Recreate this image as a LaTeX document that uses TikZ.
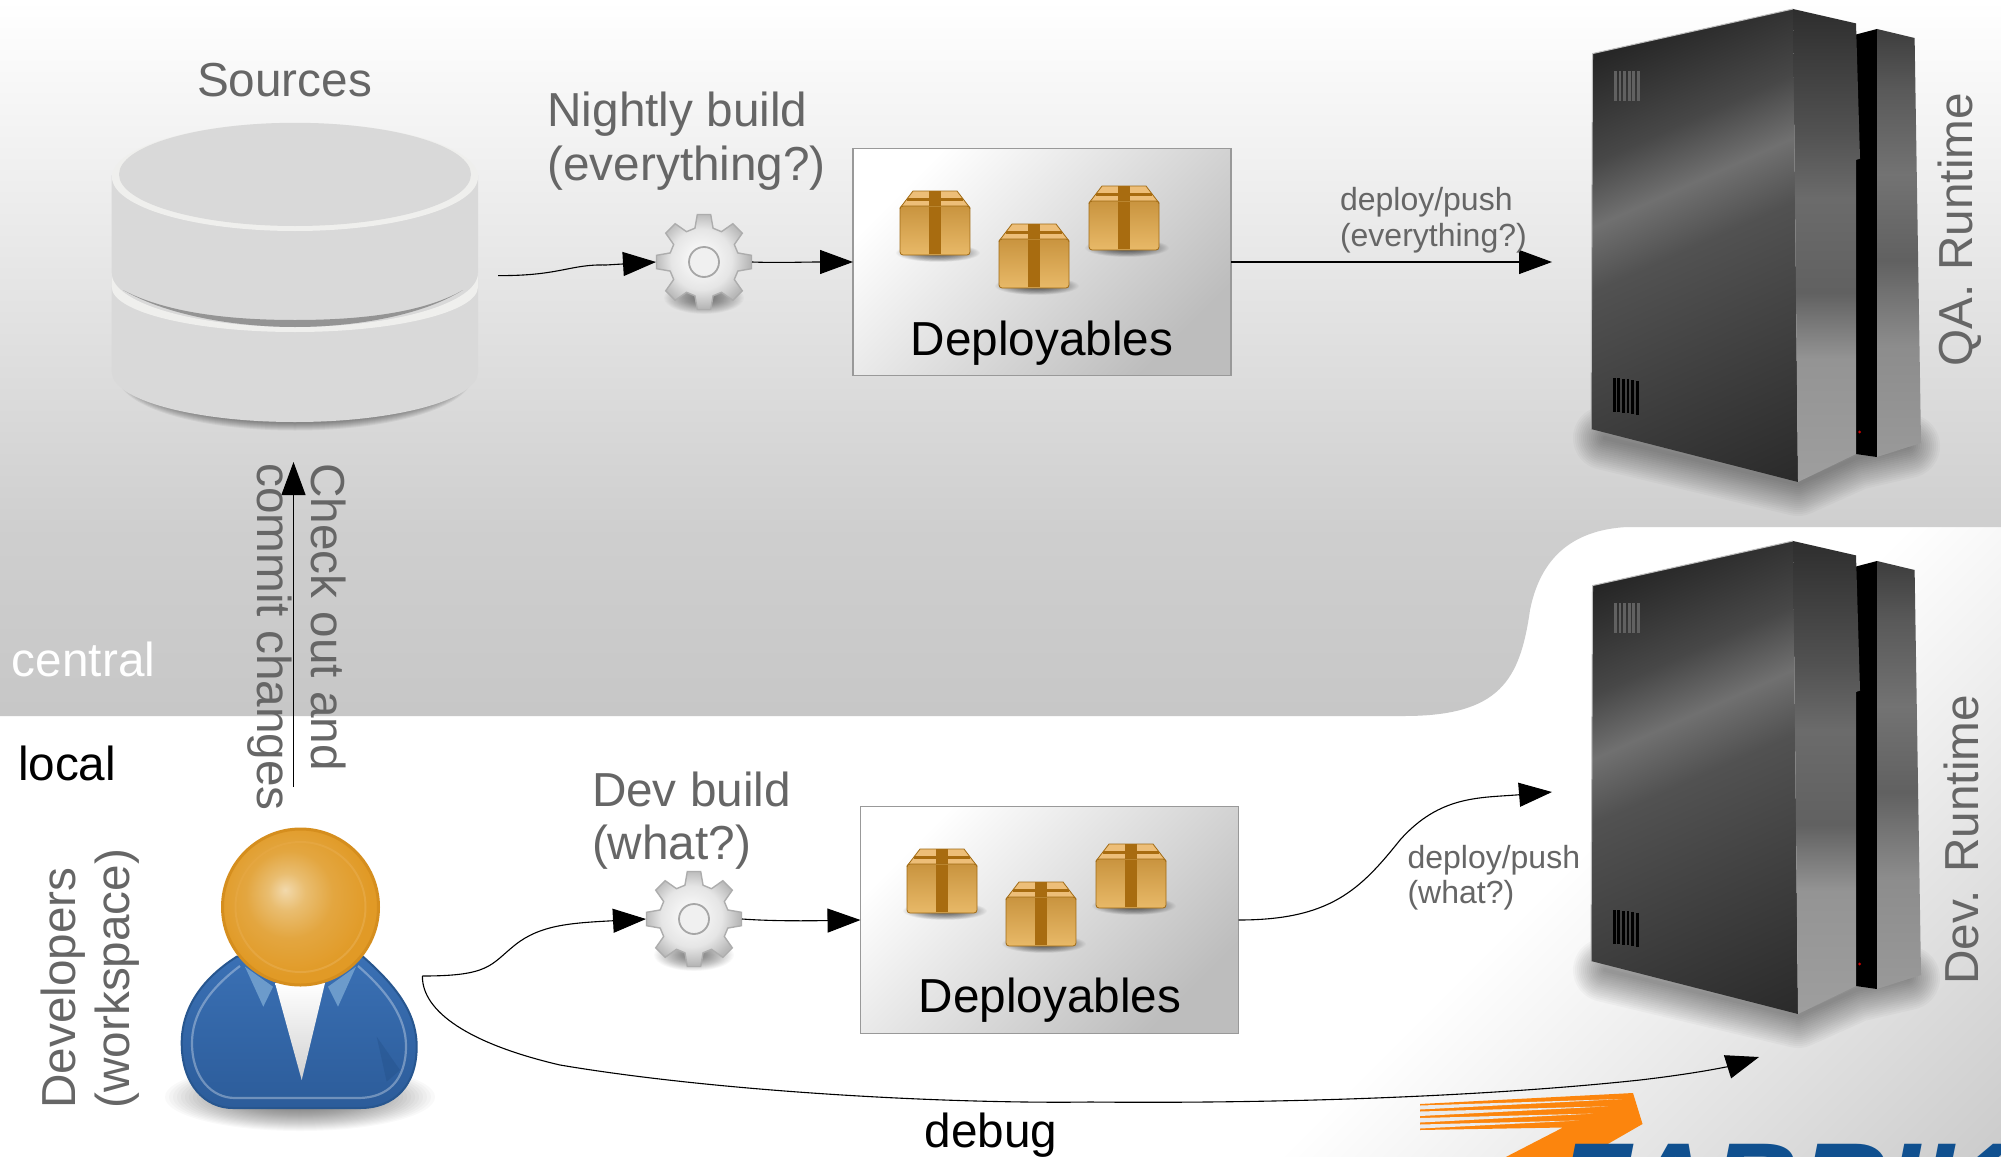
\documentclass[tikz,border=0pt]{standalone}
\usepackage{fontspec}
\setmainfont{Liberation Sans}
\usetikzlibrary{arrows.meta}
\definecolor{headA}{HTML}{F2D9AC}
\definecolor{headB}{HTML}{E9BD70}
\definecolor{headC}{HTML}{E3A640}
\definecolor{headD}{HTML}{E19A26}
\definecolor{headE}{HTML}{D58E1E}
\definecolor{headR}{HTML}{E5A640}
\definecolor{txtgray}{HTML}{666666}
\definecolor{dbface}{HTML}{D9D9D9}
\definecolor{dbrim}{HTML}{EFEFED}
\definecolor{logoorange}{HTML}{FC850D}
\definecolor{logoblue}{HTML}{10508F}
\definecolor{packstrap}{HTML}{A86C10}
\definecolor{packedge}{HTML}{A06A14}
\definecolor{packtop}{HTML}{EDBE78}
\definecolor{packup}{HTML}{C9943F}
\definecolor{packlow}{HTML}{E8B968}
\definecolor{suittop}{HTML}{3A70B4}
\definecolor{suitlow}{HTML}{2C5C9A}
\definecolor{suitedge}{HTML}{27568F}
\definecolor{suitdark}{HTML}{1F4A80}
\definecolor{collar}{HTML}{6C9BCB}
\pgfdeclareverticalshading{centralbg}{100bp}{color(0bp)=(black!22); color(25bp)=(black!22); color(38bp)=(black!19); color(75bp)=(white); color(100bp)=(white)}
\pgfdeclarehorizontalshading{localbg}{100bp}{color(0bp)=(white); color(54bp)=(white); color(85bp)=(black!20); color(100bp)=(black!20)}
\pgfdeclarehorizontalshading{srvfront}{100bp}{color(0bp)=(black!90); color(18bp)=(black!90); color(35bp)=(black!72); color(42.5bp)=(black!56); color(50bp)=(black!68); color(82bp)=(black!83); color(100bp)=(black!83)}
\pgfdeclareverticalshading{srvsidea}{100bp}{color(0bp)=(black!38); color(25bp)=(black!38); color(38bp)=(black!42); color(45bp)=(black!62); color(55bp)=(black!58); color(62bp)=(black!68); color(75bp)=(black!82); color(100bp)=(black!82)}
\pgfdeclareverticalshading{srvsideb}{100bp}{color(0bp)=(black!40); color(25bp)=(black!40); color(38bp)=(black!45); color(48bp)=(black!62); color(58bp)=(black!55); color(68bp)=(black!65); color(75bp)=(black!76); color(100bp)=(black!76)}
\pgfdeclareradialshading{headshade}{\pgfpoint{-5bp}{5.5bp}}{color(0bp)=(headA); color(6bp)=(headB); color(14bp)=(headC); color(25bp)=(headD); color(50bp)=(headD)}
\pgfdeclareradialshading{gearshade}{\pgfpoint{-2bp}{2bp}}{color(0bp)=(white); color(16bp)=(black!10); color(25bp)=(black!28); color(50bp)=(black!28)}
\newcommand{\softshadow}[6][0]{\foreach \kk in {0,...,29}{\fill[black,opacity=#6,rotate around={#1:(#2,#3)}] (#2,#3) ellipse[x radius={#4*(1-\kk/34)},y radius={#5*(1-\kk/34)}];}}
\newcommand{\servershape}{%
  \foreach \ww in {4,8,...,64}{
    \draw[black,opacity=0.028,line width=\ww,line cap=round,line join=round] (1605,438) -- (1798,484) -- (1856,458) -- (1908,446);
  }
  \shade[shading=srvfront,shading angle=-66] (1592.5,53.6) -- (1793,9) -- (1798,482) -- (1591,429) -- cycle;
  \draw[black!25,line width=1] (1591,429) -- (1592.5,53.6) -- (1793,9);
  \fill[black] (1856,34.5) -- (1877,29) -- (1877,457) -- (1856,454) -- cycle;
  \shade[shading=srvsidea] (1793,9) -- (1856,23.4) -- (1860,158.6) -- (1856,160) -- (1856,454) -- (1798,482) -- cycle;
  \shade[shading=srvsideb] (1877,29) -- (1914.6,38) -- (1921,443) -- (1877,457) -- cycle;
  \foreach \vi in {0,...,5}{
    \fill[black!62] ({1614+\vi*4.6},71) rectangle ++(2.8,30);
    \fill[black] ({1612.7+\vi*4.6},{377.6+\vi*0.6}) rectangle ++(2.8,34);
  }
  \fill[red!80!black] (1859.6,432) circle[radius=1.6];
}
\newcommand{\packbox}[2]{%
  \begin{scope}[shift={(#1,#2)}]
    \softshadow{38}{62}{42}{9}{0.028}
    \fill[packtop,draw=packedge,line width=0.8] (13,0) -- (57,0) -- (70,17) -- (0,17) -- cycle;
    \fill[packstrap] (29,0) rectangle (41,17);
    \fill[packstrap] (7,7) rectangle (63,9.5);
    \path[top color=packup,bottom color=packlow,draw=packedge,line width=0.8,rounded corners=3] (0,15) rectangle (70,64);
    \fill[packstrap] (29,16) rectangle (41,63);
  \end{scope}
}
\newcommand{\geardraw}[2]{%
  \begin{scope}[shift={(#1,#2)}]
    \softshadow{0}{36}{40}{16}{0.02}
    \path[shading=gearshade,draw=black!32,line width=1.4] (-8:48) \foreach \aa in {0,45,...,315}{ -- (\aa-8:48) -- (\aa+8:48) -- (\aa+15:35) -- (\aa+30:35)} -- cycle;
    \draw[black!35,line width=1.8,fill=black!6] (0,0) circle[radius=15];
  \end{scope}
}
\tikzset{
  every node/.style={inner sep=0pt,outer sep=0pt},
  biglabel/.style={font=\fontsize{47.7}{53.6}\selectfont,align=left},
  greylabel/.style={biglabel,text=txtgray},
  smalllabel/.style={font=\fontsize{32}{35.5}\selectfont,align=left,text=txtgray},
  flow/.style={black,line width=1.1,-{Triangle[length=33,width=24]}},
  deploybox/.style={minimum width=378,minimum height=227,draw=black!40,line width=1.3,left color=white,right color=black!26,shading angle=45},
  gearspot/.style={circle,minimum size=96},
}
\begin{document}
\begin{tikzpicture}[x=1pt,y=-1pt]
\useasboundingbox (0,0) rectangle (2001,1156);
\clip (0,0) rectangle (2001,1156);
% backgrounds
\fill[white] (0,0) rectangle (2001,1156);
\shade[shading=localbg,shading angle=-45] (1000,527) rectangle (2001,1156);
\shade[shading=centralbg] (0,0) -- (2001,0) -- (2001,527) -- (1627,527) .. controls (1570,530) and (1540,560) .. (1530,610) .. controls (1520,680) and (1500,716) .. (1404,716) -- (0,716) -- cycle;
% logo
\fill[logoorange] (1420,1104) -- (1633,1093) -- (1642.5,1124) -- (1580,1160) -- (1500,1160) -- (1563,1127.5) -- (1420,1130) -- cycle;
\fill[black!8] (1420,1105.5) -- (1622,1099) -- (1420,1109.5) -- cycle;
\fill[black!8] (1420,1111.5) -- (1608,1106.3) -- (1420,1116) -- cycle;
\fill[black!8] (1420,1118) -- (1593,1113.6) -- (1420,1122.5) -- cycle;
\fill[black!8] (1420,1124.5) -- (1579,1120.5) -- (1420,1128.5) -- cycle;
\node[anchor=base west,text=logoblue,font=\fontsize{121}{121}\selectfont\bfseries\itshape] (logo) at (1557,1227) {FABRIK};
% database
\foreach \ww in {2,4,...,16}{
  \draw[black,opacity=0.055,line width=\ww,line cap=butt] (124,372) arc[start angle=180,end angle=0,x radius=171,y radius=50.5];
}
\path[fill=dbface] (111.7,175) -- (111.7,372) arc[start angle=180,end angle=0,x radius=183.15,y radius=50] -- (478,175) arc[start angle=0,end angle=180,x radius=183.15,y radius=54] -- cycle;
\path[fill=dbrim] (111.7,273) -- (111.7,287) arc[start angle=180,end angle=0,x radius=183.15,y radius=45] -- (478,273) arc[start angle=0,end angle=180,x radius=183.15,y radius=54] -- cycle;
\fill[black!42] (123,290) .. controls (170,315) and (240,320) .. (295,320) .. controls (350,320) and (420,315) .. (463,290) .. controls (420,317) and (350,327) .. (295,327) .. controls (240,327) and (170,317) .. (123,290) -- cycle;
\fill[dbrim] (295,177) ellipse[x radius=183,y radius=54];
\fill[dbface] (295,174.4) ellipse[x radius=176,y radius=51.6];
\coordinate (srcout) at (498,275.6);
\coordinate (srcin) at (293.5,462);
% servers
\servershape
\begin{scope}[shift={(0,532)}]
  \servershape
\end{scope}
% deployable boxes
\node[deploybox] (boxa) at (1042,262) {};
\node[deploybox] (boxb) at (1049.5,920) {};
\packbox{900}{191}\packbox{999}{224}\packbox{1089}{186}
\packbox{907}{849}\packbox{1006}{882}\packbox{1096}{844}
% gears
\geardraw{704}{262}
\geardraw{694}{919}
\node[gearspot] (geara) at (704,262) {};
\node[gearspot] (gearb) at (694,919) {};
% person
\softshadow{300}{1097}{135}{34}{0.025}
\path[top color=suittop,bottom color=suitlow,draw=suitedge,line width=2] (236.7,956.7) .. controls (200,980) and (181.7,1010) .. (181.7,1043) .. controls (181.7,1085) and (205,1108) .. (233,1108) -- (360,1108) .. controls (395,1108) and (416.7,1085) .. (416.7,1046.7) .. controls (416.7,1012) and (395,985) .. (363,956.7) -- cycle;
\draw[white,opacity=0.32,line width=2.2] (240,966) .. controls (208,990) and (192,1015) .. (192,1043) .. controls (192,1078) and (212,1098) .. (235,1098) -- (358,1098) .. controls (388,1098) and (406,1080) .. (406,1046) .. controls (406,1018) and (388,992) .. (358,966);
\fill[suitdark,opacity=0.3] (376.7,1036.7) -- (400,1070) -- (386.7,1081.7) -- cycle;
\fill[collar] (245,966.7) -- (273,986.7) -- (263.3,1006.7) -- cycle;
\fill[collar] (356,966.7) -- (328,986.7) -- (338,1006.7) -- cycle;
\path[top color=white,bottom color=black!18] (275,983) -- (325,983) -- (301.7,1080) -- cycle;
\node[circle,minimum size=156,shading=headshade,draw=headE,line width=3] (head) at (300.5,907) {};
\draw[headR,line width=2] (head.center) circle[radius=65];
% connector ends
\coordinate (devout) at (422.4,976);
\coordinate (devup) at (293.5,787);
\coordinate (qatip) at (1552,262);
\coordinate (devtip) at (1552,792);
\coordinate (debugtip) at (1759,1057);
% connectors
\draw[flow] (srcout) .. controls (560,276) and (570,264) .. (606,265) -- (geara.west);
\draw[flow] (geara.east) .. controls (780,263) and (800,262) .. (boxa.west);
\draw[flow] (boxa.east) -- (qatip);
\draw[flow] (devup) -- (srcin);
\draw[flow] (devout) .. controls (490,976) and (490,965) .. (515,945) .. controls (540,925) and (570,923) .. (gearb.west);
\draw[flow] (gearb.east) .. controls (770,921) and (800,921) .. (boxb.west);
\draw[flow] (boxb.east) .. controls (1330,920) and (1360,890) .. (1400,840) .. controls (1440,795) and (1480,798) .. (devtip);
\draw[flow] (devout) .. controls (422,1012) and (470,1044) .. (560,1065) .. controls (720,1092) and (950,1104) .. (1090,1102) .. controls (1300,1104) and (1500,1095) .. (1640,1080) .. controls (1700,1073) and (1730,1066) .. (debugtip);
% labels
\node[greylabel] (lblsources) at (284.6,80) {Sources};
\node[greylabel,anchor=west] (lblnightly) at (547.5,141) {Nightly build\\(everything?)};
\node[biglabel] (lbldepa) at (1042,343) {Deployables};
\node[biglabel] (lbldepb) at (1050,1000.4) {Deployables};
\node[smalllabel,anchor=west] (lblpusha) at (1340,220) {deploy/push\\(everything?)};
\node[smalllabel,anchor=west] (lblpushb) at (1407.5,877.5) {deploy/push\\(what?)};
\node[greylabel,rotate=90] (lblqa) at (1960,229.6) {QA. Runtime};
\node[greylabel,rotate=90] (lbldev) at (1961,840) {Dev. Runtime};
\node[biglabel,text=white,anchor=west] (lblcentral) at (12,659) {central};
\node[biglabel,anchor=west] (lbllocal) at (18,763) {local};
\node[greylabel,rotate=-90,anchor=north west] (lblcheck) at (346,463.5) {Check out and\\commit changes};
\node[greylabel,rotate=90,anchor=north west] (lbldevs) at (41,1108.5) {Developers\\(workspace)};
\node[greylabel,anchor=west] (lbldevb) at (592,820.5) {Dev build\\(what?)};
\node[biglabel] (lbldebug) at (991,1135) {debug};
\end{tikzpicture}
\end{document}
